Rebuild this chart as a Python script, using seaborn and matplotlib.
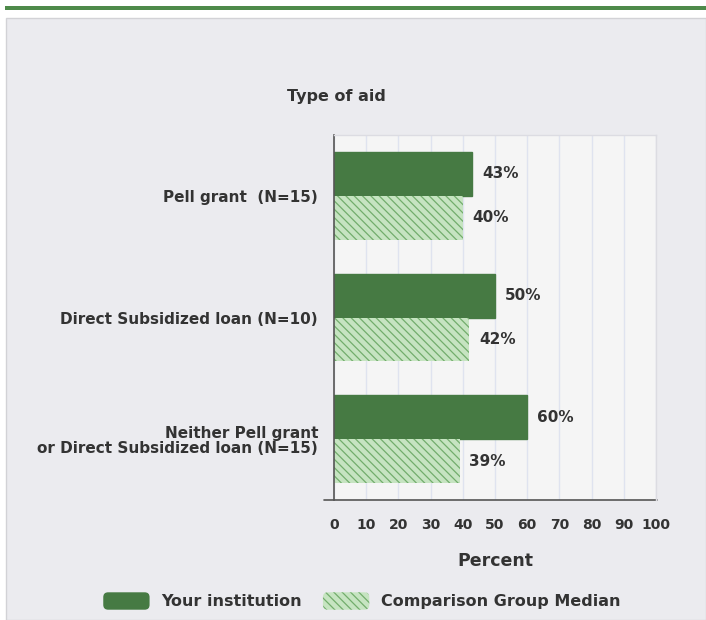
import matplotlib
matplotlib.use("Agg")
import matplotlib.pyplot as plt
import seaborn as sns
import pandas as pd
from matplotlib.patches import Rectangle, FancyBboxPatch, Patch
from matplotlib.lines import Line2D
from matplotlib.legend_handler import HandlerPatch

categories = ["Pell grant  (N=15)", "Direct Subsidized loan (N=10)",
              "Neither Pell grant\nor Direct Subsidized loan (N=15)"]
series_names = ["Your institution", "Comparison Group Median"]
your_institution = [43, 50, 60]
comparison_median = [40, 42, 39]
x_ticks = [0, 10, 20, 30, 40, 50, 60, 70, 80, 90, 100]

df = pd.DataFrame({
    "category": categories * 2,
    "series": [series_names[0]] * 3 + [series_names[1]] * 3,
    "value": your_institution + comparison_median,
})

sns.set_theme(style="white")
plt.rcParams["font.family"] = ["DejaVu Sans"]
plt.rcParams["hatch.linewidth"] = 0.9
TXT = "#333333"
DARK = "#467a43"
LIGHT = "#c6e4c1"
HATCH_C = "#72ad6c"
HATCH = "\\\\\\\\"

fig = plt.figure(figsize=(7.06, 6.2), dpi=100)
fig.patch.set_facecolor("white")
fig.add_artist(Rectangle((6/706, 0), 1 - 6/706, (620-18)/620, transform=fig.transFigure,
                         facecolor="#ebebef", edgecolor="#d2d2d6", linewidth=1, zorder=0))
fig.add_artist(Rectangle((5/706, (620-10)/620), 1, 4/620, transform=fig.transFigure,
                         facecolor="#4e8a4a", edgecolor="none", zorder=0))

ax = fig.add_axes([334/706, (620-500)/620, (656-334)/706, (500-135)/620])
sns.barplot(data=df, y="category", x="value", hue="series", orient="h",
            palette=[DARK, LIGHT], width=0.72, ax=ax, legend=False, saturation=1)

for bar in ax.containers[1]:
    bar.set_hatch(HATCH)
    bar.set_edgecolor(HATCH_C)
    bar.set_linewidth(0)
for bar in ax.containers[0]:
    bar.set_edgecolor(DARK)

ax.set_facecolor("#f5f5f5")
ax.set_xlim(0, 100)
ax.set_ylim(2.5, -0.5)
ax.set_xticks(x_ticks)
ax.set_xticklabels([str(t) for t in x_ticks], fontsize=10, fontweight="bold", color=TXT)
ax.set_yticks(range(3))
ax.set_yticklabels(categories, fontsize=11, fontweight="bold", color=TXT, linespacing=1.05)
ax.set_yticks([-0.5, 0.5, 1.5, 2.5], minor=True)
ax.tick_params(axis="y", which="major", length=0, pad=11.5)
ax.tick_params(axis="y", which="minor", length=6.5, width=1.2, color="#555555", direction="out")
ax.tick_params(axis="x", length=0, pad=13)
ax.grid(axis="x", color="#dfe3ef", linewidth=1)
ax.set_axisbelow(True)
ax.set_ylabel("")
ax.set_xlabel("Percent", fontsize=12.5, fontweight="bold", color=TXT, labelpad=14)

for s in ["top", "right"]:
    ax.spines[s].set_color("#dcdce2")
    ax.spines[s].set_linewidth(1)
ax.spines["left"].set_color("#555555")
ax.spines["left"].set_linewidth(1.2)
ax.spines["bottom"].set_visible(False)
ax.add_line(Line2D([-10/322, 1.003], [0, 0], transform=ax.transAxes, color="#555555",
                   linewidth=1.2, clip_on=False))

for cont in ax.containers:
    ax.bar_label(cont, labels=[f"{int(v)}%" for v in cont.datavalues], padding=7,
                 fontsize=11, fontweight="bold", color=TXT)

fig.text(336/706, (620-97)/620, "Type of aid", ha="center", va="center",
         fontsize=11.5, fontweight="bold", color=TXT)


class RoundHandler(HandlerPatch):
    def create_artists(self, legend, orig_handle, xdescent, ydescent, width, height,
                       fontsize, trans):
        p = FancyBboxPatch((-xdescent, -ydescent), width, height,
                           boxstyle="round,pad=0,rounding_size=3.5",
                           facecolor=orig_handle.get_facecolor(),
                           edgecolor=orig_handle.get_edgecolor(),
                           hatch=orig_handle.get_hatch(), linewidth=0, transform=trans)
        return [p]


handles = [Patch(facecolor=DARK, edgecolor=DARK),
           Patch(facecolor=LIGHT, edgecolor=HATCH_C, hatch=HATCH)]
fig.legend(handles, series_names, loc="center", bbox_to_anchor=(362/706, (620-601)/620),
           ncol=2, frameon=False, handlelength=2.9, handleheight=1.3,
           columnspacing=1.3, handletextpad=0.75, labelcolor=TXT,
           prop={"weight": "bold", "size": 11.5},
           handler_map={Patch: RoundHandler()})

fig.savefig("out.png", dpi=100, facecolor=fig.get_facecolor())
